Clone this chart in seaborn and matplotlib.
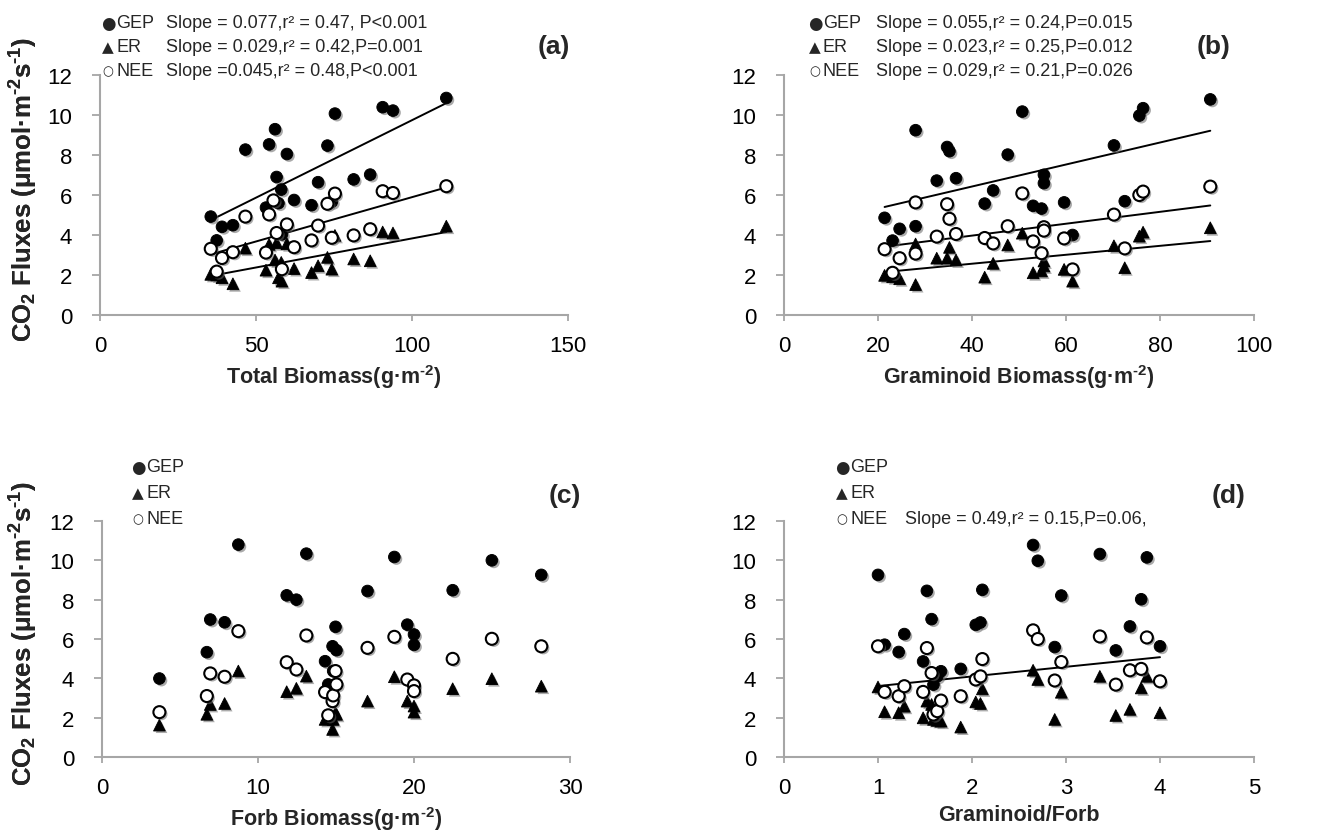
import matplotlib
matplotlib.use("Agg")
import matplotlib.pyplot as plt
import matplotlib.patheffects as pe
import pandas as pd
import seaborn as sns

# ---- panel (a): total biomass ----
a_gep_x = [35.5, 39.1, 42.6, 37.4, 46.6, 54.2, 56.1, 59.9, 56.6, 58.1, 53.2, 57.2,
           62.2, 58.3, 69.9, 67.8, 72.9, 74.3, 75.3, 81.3, 86.6, 90.6, 93.9, 111.0]
a_gep_y = [4.92, 4.41, 4.49, 3.73, 8.27, 8.53, 9.29, 8.05, 6.90, 6.27, 5.37, 5.59,
           5.75, 4.03, 6.64, 5.49, 8.47, 5.66, 10.07, 6.78, 7.02, 10.39, 10.22, 10.85]
a_nee_x = [35.5, 39.1, 42.6, 46.6, 37.4, 53.2, 54.2, 55.6, 56.6, 59.9, 58.3, 62.2,
           67.8, 69.9, 72.9, 74.3, 75.3, 81.3, 86.6, 90.6, 93.9, 111.0]
a_nee_y = [3.31, 2.85, 3.14, 4.92, 2.17, 3.12, 5.03, 5.73, 4.10, 4.53, 2.29, 3.39,
           3.73, 4.47, 5.56, 3.86, 6.07, 3.98, 4.29, 6.19, 6.10, 6.44]
a_er_x = [35.5, 37.4, 39.1, 42.6, 46.6, 53.2, 54.2, 56.1, 56.6, 57.2, 58.1, 58.3,
          59.9, 62.2, 67.8, 69.9, 72.9, 74.3, 75.3, 81.3, 86.6, 90.6, 93.9, 111.0]
a_er_y = [2.03, 2.00, 1.86, 1.56, 3.34, 2.24, 3.53, 2.75, 3.61, 1.86, 2.63, 1.69,
          3.56, 2.32, 2.12, 2.46, 2.88, 2.29, 3.98, 2.80, 2.71, 4.15, 4.10, 4.44]

# ---- panel (b): graminoid biomass ----
b_x = [21.4, 23.1, 24.6, 28.0, 28.0, 32.5, 34.7, 35.2, 36.6, 42.7, 44.5, 47.6,
       50.7, 53.0, 54.8, 55.3, 55.3, 59.6, 61.4, 70.2, 72.5, 75.6, 76.4, 90.7]
b_gep_y = [4.86, 3.72, 4.31, 4.44, 9.24, 6.72, 8.40, 8.19, 6.84, 5.57, 6.23, 8.02,
           10.17, 5.46, 5.32, 7.01, 6.59, 5.63, 4.00, 8.48, 5.69, 9.97, 10.34, 10.78]
b_nee_y = [3.29, 2.11, 2.84, 5.63, 3.07, 3.92, 5.54, 4.81, 4.05, 3.85, 3.58, 4.44,
           6.08, 3.68, 3.09, 4.39, 4.22, 3.83, 2.28, 5.02, 3.33, 6.00, 6.17, 6.42]
b_er_y = [1.98, 1.91, 1.81, 1.52, 3.55, 2.84, 2.84, 3.38, 2.75, 1.89, 2.58, 3.50,
          4.09, 2.11, 2.20, 2.45, 2.70, 2.28, 1.69, 3.46, 2.36, 3.94, 4.14, 4.36]

# ---- panel (c): forb biomass ----
c_x = [3.68, 6.72, 6.94, 7.86, 8.74, 11.84, 12.46, 13.10, 14.30, 14.50, 14.78,
       14.82, 15.03, 14.97, 17.02, 18.74, 19.57, 20.0, 20.0, 22.48, 24.99, 28.16]
c_gep_y = [3.99, 5.33, 6.99, 6.85, 10.80, 8.22, 8.00, 10.34, 4.87, 3.69, 5.63,
           4.37, 5.43, 6.62, 8.44, 10.17, 6.73, 6.23, 5.70, 8.48, 10.00, 9.26]
c_nee_y = [2.28, 3.10, 4.25, 4.08, 6.40, 4.82, 4.45, 6.18, 3.30, 2.12, 2.84,
           3.13, 3.69, 4.37, 5.55, 6.11, 3.94, 3.64, 3.35, 4.99, 6.01, 5.63]
c_er_y = [1.62, 2.17, 2.67, 2.72, 4.37, 3.32, 3.49, 4.11, 1.91, 2.00, 1.40,
          1.91, 2.17, 2.25, 2.84, 4.08, 2.84, 2.59, 2.28, 3.47, 3.98, 3.60]

# ---- panel (d): graminoid / forb ----
d_x = [1.00, 1.07, 1.22, 1.28, 1.48, 1.52, 1.57, 1.59, 1.63, 1.67, 1.88, 2.04,
       2.09, 2.11, 2.65, 2.70, 2.88, 2.95, 3.36, 3.53, 3.68, 3.80, 3.86, 4.00]
d_gep_y = [9.26, 5.71, 5.34, 6.25, 4.86, 8.45, 7.01, 3.68, 4.10, 4.36, 4.48, 6.72,
           6.84, 8.50, 10.78, 9.98, 5.59, 8.21, 10.32, 5.42, 6.64, 8.02, 10.15, 5.63]
d_nee_y = [5.63, 3.31, 3.09, 3.60, 3.31, 5.54, 4.27, 2.16, 2.33, 2.87, 3.09, 3.94,
           4.10, 4.98, 6.44, 6.00, 3.89, 4.83, 6.13, 3.68, 4.41, 4.48, 6.08, 3.85]
d_er_y = [3.56, 2.30, 2.25, 2.58, 1.99, 2.84, 2.67, 1.91, 1.86, 1.82, 1.52, 2.80,
          2.72, 3.46, 4.41, 3.94, 1.91, 3.29, 4.10, 2.11, 2.42, 3.51, 4.10, 2.25]

x_labels = ["Total Biomass(g·m$^{\\text{-2}}$)", "Graminoid Biomass(g·m$^{\\text{-2}}$)",
            "Forb Biomass(g·m$^{\\text{-2}}$)", "Graminoid/Forb"]
y_label = "CO$_{\\text{2}}$ Fluxes (μmol·m$^{\\text{-2}}$s$^{\\text{-1}}$)"
panel_tags = ["(a)", "(b)", "(c)", "(d)"]
stats_a = ["Slope = 0.077,r² = 0.47, P<0.001", "Slope = 0.029,r² = 0.42,P=0.001",
           "Slope =0.045,r² = 0.48,P<0.001"]
stats_b = ["Slope = 0.055,r² = 0.24,P=0.015", "Slope = 0.023,r² = 0.25,P=0.012",
           "Slope = 0.029,r² = 0.21,P=0.026"]
stats_c = ["", "", ""]
stats_d = ["", "", "Slope = 0.49,r² = 0.15,P=0.06,"]

sns.set_theme(style="ticks")
plt.rcParams["font.family"] = ["Liberation Sans", "DejaVu Sans"]
plt.rcParams["mathtext.fontset"] = "custom"
plt.rcParams["mathtext.rm"] = "Liberation Sans:bold"
plt.rcParams["mathtext.it"] = "Liberation Sans:bold"
plt.rcParams["mathtext.bf"] = "Liberation Sans:bold"

W, H = 1321, 837
fig = plt.figure(figsize=(W / 100, H / 100), dpi=100)


def px_axes(x0, x1, y_top, y_bot):
    return fig.add_axes([x0 / W, 1 - y_bot / H, (x1 - x0) / W, (y_bot - y_top) / H])


shadow = [pe.SimplePatchShadow(offset=(1.5, -1.5), shadow_rgbFace="0.4", alpha=0.55), pe.Normal()]

boxes = [(100, 568, 76, 316), (784, 1254, 76, 316), (102, 570, 522, 758), (784, 1254, 522, 758)]
panels = [
    dict(xlim=(0, 150), xticks=[0, 50, 100, 150],
         series=[(a_gep_x, a_gep_y), (a_er_x, a_er_y), (a_nee_x, a_nee_y)],
         fits=[True, True, True], stats=stats_a),
    dict(xlim=(0, 100), xticks=[0, 20, 40, 60, 80, 100],
         series=[(b_x, b_gep_y), (b_x, b_er_y), (b_x, b_nee_y)],
         fits=[True, True, True], stats=stats_b),
    dict(xlim=(0, 30), xticks=[0, 10, 20, 30],
         series=[(c_x, c_gep_y), (c_x, c_er_y), (c_x, c_nee_y)],
         fits=[False, False, False], stats=stats_c),
    dict(xlim=(0, 5), xticks=[0, 1, 2, 3, 4, 5],
         series=[(d_x, d_gep_y), (d_x, d_er_y), (d_x, d_nee_y)],
         fits=[False, False, True], stats=stats_d),
]

styles = [dict(marker="o", color="black", edgecolor="black", s=70),
          dict(marker="^", color="black", edgecolor="black", s=70),
          dict(marker="o", color="white", edgecolor="black", s=75, linewidth=1.5)]
names = ["GEP", "ER", "NEE"]
symbols = ["●", "▲", "○"]
symbol_sizes = [12, 11, 9]

legend_pos = [(108, 24), (815, 24), (138, 468), (842, 468)]
stat_x = [166, 876, None, 905]
tag_pos = [(554, 47), (1214, 47), (565, 496), (1229, 496)]
row_gap = [24, 24, 26, 26]

for i, p in enumerate(panels):
    x0, x1, yt, yb = boxes[i]
    ax = px_axes(x0, x1, yt, yb)
    for (xs, ys), st, fit in zip(p["series"], styles, p["fits"]):
        df = pd.DataFrame({"x": xs, "y": ys})
        sc = sns.scatterplot(data=df, x="x", y="y", ax=ax, zorder=3, legend=False, **st)
        sc.collections[-1].set_path_effects(shadow)
        if fit:
            sns.regplot(data=df, x="x", y="y", ax=ax, scatter=False, ci=None,
                        line_kws=dict(color="black", linewidth=1.4, zorder=2))
    ax.set_xlim(*p["xlim"])
    ax.set_ylim(0, 12)
    ax.set_xticks(p["xticks"])
    ax.set_yticks(range(0, 13, 2))
    ax.set_xticklabels([str(t) for t in p["xticks"]])
    ax.tick_params(axis="both", direction="out", width=1.3, color="#a6a6a6",
                   labelsize=16, labelcolor="black")
    ax.tick_params(axis="x", length=4.5, pad=10)
    ax.tick_params(axis="y", length=6, pad=14)
    for side in ["top", "right"]:
        ax.spines[side].set_visible(False)
    for side in ["left", "bottom"]:
        ax.spines[side].set_color("#a6a6a6")
        ax.spines[side].set_linewidth(1.5)
    ax.set_xlabel(x_labels[i], fontsize=15.5, fontweight="bold", labelpad=4)
    ax.set_ylabel(y_label, fontsize=18.5, fontweight="bold")
    # label anchored by its right edge (rotated bottom) at x = 40 px, centred 6 px above mid-axis
    ax.yaxis.set_label_coords((40 - x0) / (x1 - x0), ((yb - yt) / 2 + 6) / (yb - yt))
    ax.patch.set_alpha(0)

    lx, ly = legend_pos[i]
    for k in range(3):
        yk = ly + k * row_gap[i]
        fig.text(lx / W, 1 - yk / H, symbols[k], fontsize=symbol_sizes[k], ha="center", va="center",
                 family=["DejaVu Sans"])
        fig.text((lx + 8) / W, 1 - yk / H, names[k], fontsize=13, ha="left", va="center")
        if p["stats"][k]:
            fig.text(stat_x[i] / W, 1 - yk / H, p["stats"][k], fontsize=13, ha="left", va="center")
    tx, ty = tag_pos[i]
    fig.text(tx / W, 1 - ty / H, panel_tags[i], fontsize=19, fontweight="bold", ha="center", va="center")

fig.savefig("out.png", dpi=100)
